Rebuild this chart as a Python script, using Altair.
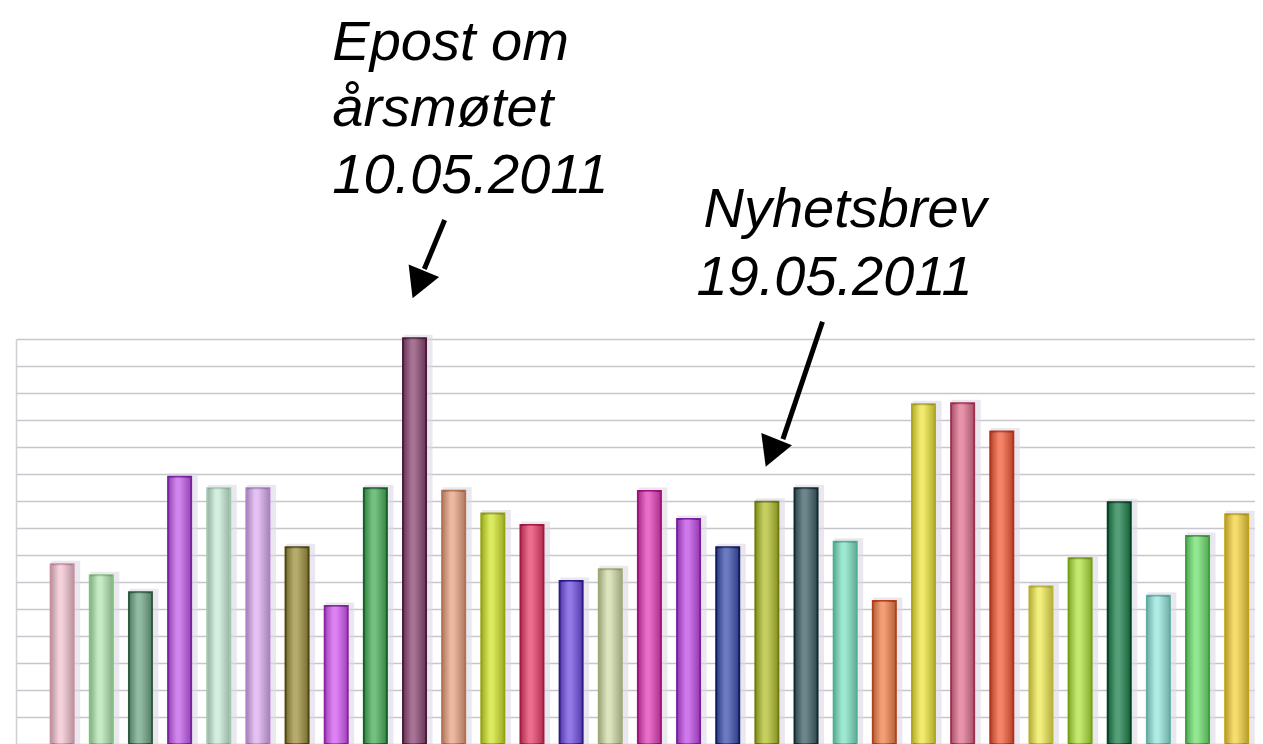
import altair as alt
import pandas as pd

# ---- data ----
bars = list(range(1, 32))
values = [6.66, 6.25, 5.62, 9.90, 9.47, 9.47, 7.29, 5.11, 9.47, 15.03,
          9.38, 8.54, 8.11, 6.04, 6.47, 9.37, 8.33, 7.29, 8.97, 9.47,
          7.49, 5.30, 12.58, 12.62, 11.57, 5.83, 6.88, 8.95, 5.49, 7.70, 8.51]
fills = ["#f2c4d2", "#b4e6b4", "#74a88a", "#c262ea", "#c8ead6", "#dcb0f0", "#a09444",
         "#d45ef2", "#4eaf5e", "#8e4c76", "#e8a486", "#d2e432", "#e8446e", "#7452e0",
         "#d2dcaa", "#e044ba", "#c252e6", "#4254b0", "#b4c234", "#44646c", "#84e2c4",
         "#f0844e", "#ece444", "#e07494", "#f2603e", "#eeea5a", "#b2e244", "#248452",
         "#98e6dc", "#74e074", "#f2d244"]
strokes = ["#c8909e", "#80c080", "#2e5a40", "#7a22a4", "#9ccaae", "#ae80c8", "#4e4612",
           "#8c22a6", "#126226", "#4c1c3c", "#b47050", "#92a412", "#a41a42", "#2c1a86",
           "#9eaa76", "#a0127a", "#7622a2", "#101a62", "#727a12", "#0e2a30", "#4eb092",
           "#b2421e", "#b0a81e", "#a2304e", "#b2301c", "#b6b432", "#72a212", "#02421e",
           "#5eb0a6", "#3ea03e", "#c2a212"]

# annotations (bar index units, value units)
ann_text = ["Epost om", "årsmøtet", "10.05.2011", "Nyhetsbrev", "19.05.2011"]
ann_x = [7.90, 7.90, 7.90, 17.38, 17.20]
ann_y = [25.33, 22.89, 20.41, 19.16, 16.63]

arrow_x = [10.77, 20.42]
arrow_y = [19.41, 15.64]
arrow_x2 = [10.25, 19.41]
arrow_y2 = [17.59, 11.29]
tip_x = [9.95, 18.97]
tip_y = [16.51, 10.27]
tip_angle = [22.4, 21.6]

X_DOMAIN = [-0.0514, 31.34]
Y_DOMAIN = [0, 15]

df = pd.DataFrame({"bar": bars, "value": values, "fill": fills, "stroke": strokes})
ann = pd.DataFrame({"text": ann_text, "x": ann_x, "y": ann_y})
arrows = pd.DataFrame({"x": arrow_x, "y": arrow_y, "x2": arrow_x2, "y2": arrow_y2})
heads = pd.DataFrame({"x": tip_x, "y": tip_y, "angle": tip_angle})

xscale = alt.Scale(domain=X_DOMAIN, nice=False, zero=False)
yscale = alt.Scale(domain=Y_DOMAIN, nice=False, zero=False)
yaxis = alt.Axis(values=list(range(16)), grid=True, labels=False, ticks=False,
                 domain=True, title=None, gridColor="#c6c7cc", gridWidth=1.7,
                 domainColor="#cfd0d4", domainWidth=1.5)


def X(f):
    return alt.X(f, scale=xscale, axis=None)


def Y(f):
    return alt.Y(f, scale=yscale, axis=yaxis)


shadow = alt.Chart(df).transform_calculate(
    xs="datum.bar + 0.09", ys="datum.value + 0.13"
).mark_bar(width=29, color="#dcd7e4", opacity=0.6).encode(
    x=X("xs:Q"), y=Y("ys:Q")
)

bar_layer = alt.Chart(df).mark_bar(width=23, strokeWidth=2).encode(
    x=X("bar:Q"), y=Y("value:Q"),
    fill=alt.Fill("fill:N", scale=None),
    stroke=alt.Stroke("stroke:N", scale=None),
)

sheen = alt.Chart(df).mark_bar(
    width=21,
    fill=alt.Gradient(
        gradient="linear", x1=0, x2=1, y1=0, y2=0,
        stops=[alt.GradientStop(color="#000000", offset=0),
               alt.GradientStop(color="#ffffff", offset=0.35),
               alt.GradientStop(color="#ffffff", offset=0.5),
               alt.GradientStop(color="#000000", offset=1)],
    ),
    fillOpacity=0.22,
).encode(x=X("bar:Q"), y=Y("value:Q"))

text_layer = alt.Chart(ann).mark_text(
    align="left", baseline="alphabetic", font="Liberation Sans",
    fontStyle="italic", fontSize=56, color="#000000"
).encode(x=X("x:Q"), y=Y("y:Q"), text="text:N")

shaft = alt.Chart(arrows).mark_rule(strokeWidth=5, color="#000000").encode(
    x=X("x:Q"), y=Y("y:Q"), x2="x2:Q", y2="y2:Q"
)

head = alt.Chart(heads).mark_point(
    shape="M0,0L-1,-1.8L1,-1.8Z", size=1089, filled=True, color="#000000",
    opacity=1, strokeWidth=0
).encode(x=X("x:Q"), y=Y("y:Q"), angle=alt.Angle("angle:Q", scale=None))

chart = alt.layer(shadow, bar_layer, sheen, shaft, head, text_layer).properties(
    width=1239, height=405,
    padding={"left": 8, "top": 331, "right": 0, "bottom": 0},
    autosize=alt.AutoSizeParams(type="none"),
    background="#ffffff",
).configure_view(stroke=None)

chart.save("out.html", embed_options={"renderer": "svg", "actions": False})
